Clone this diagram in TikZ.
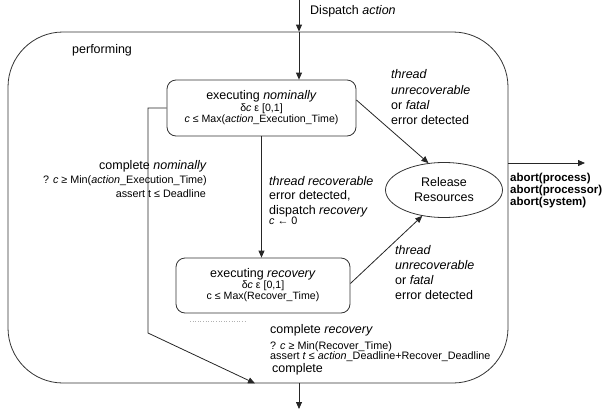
\documentclass[tikz,border=0pt]{standalone}
\usepackage{fontspec}
\setmainfont{Liberation Sans}
\usetikzlibrary{arrows.meta,shapes.geometric,calc}
\newcommand\myBig{\fontsize{12.5}{15}\selectfont}
\newcommand\mySmall{\fontsize{10.8}{11.5}\selectfont}
\newcommand\myBold{\fontsize{11.5}{12.5}\selectfont\bfseries}
\begin{document}
\begin{tikzpicture}[x=1pt,y=-1pt,
  line/.style={draw=black!85, line width=0.8pt},
  arr/.style={line, -{Triangle[length=7pt,width=6pt]}},
  txtL/.style={inner sep=0pt, anchor=base west, font=\myBig},
  txtR/.style={inner sep=0pt, anchor=base east, font=\myBig},
  stxtL/.style={inner sep=0pt, anchor=base west, font=\mySmall},
  stxtR/.style={inner sep=0pt, anchor=base east, font=\mySmall},
  btxt/.style={inner sep=0pt, anchor=base west, font=\myBold},
  statebox/.style={draw=black!80, line width=0.8pt, rounded corners=9pt, align=center, inner sep=0pt, font=\fontsize{12.5}{11.5}\selectfont},
]
\useasboundingbox (0,0) rectangle (616,410);

% outer state
\node[draw=black!80, line width=0.8pt, rounded corners=55pt, minimum width=500pt, minimum height=351pt, inner sep=0pt] (perf) at (258,207.5) {};
\node[txtL] (perfl) at (72,53) {performing};

% inner states
\node[statebox, minimum width=189pt, minimum height=56pt] (nom) at (261.5,108)
  {executing \textit{nominally}\\ \fontsize{10.6}{11.5}\selectfont δ\textit{c} ε [0,1]\\ \fontsize{10.6}{11.5}\selectfont \textit{c} ≤ Max(\textit{action}\_Execution\_Time)};
\node[statebox, minimum width=174pt, minimum height=55pt, font=\fontsize{12.5}{11}\selectfont] (rec) at (263,285.5)
  {executing \textit{recovery}\\ \fontsize{10.6}{11}\selectfont δ\textit{c} ε [0,1]\\ \fontsize{10.6}{11}\selectfont c ≤ Max(Recover\_Time)};
\node[draw=black!80, line width=0.8pt, ellipse, minimum width=117pt, minimum height=55pt, inner sep=0pt, align=center, font=\fontsize{12.5}{15}\selectfont] (rr) at (444,190) {Release\\Resources};

% coordinates for free ends
\coordinate (dtop) at (299,0);
\coordinate (dbot) at (299,409);
\coordinate (lcorner) at (148,333);
\coordinate (ltip) at (255,383);
\coordinate (aend) at (585,163);
\coordinate (dotA) at (190,321);
\coordinate (dotB) at (247,321);

% connectors
\draw[arr] (dtop) -- (dtop |- perf.north);
\draw[arr] (dtop |- perf.north) -- (dtop |- nom.north);
\draw[arr] (nom.south) -- (nom.south |- rec.north);
\draw[arr] ([yshift=8pt]nom.east) -- (rr.120);
\draw[arr] ([yshift=2pt]rec.east) -- (rr.230);
\draw[arr] (nom.west) -| (lcorner) -- (ltip |- perf.south);
\draw[arr] (dtop |- perf.south) -- (dbot);
\draw[arr] (aend -| perf.east) -- (aend);
\draw[black!30, dotted, line width=0.6pt] (dotA) -- (dotB);

% labels
\node[txtL] (dsp) at (310,14) {Dispatch \textit{action}};

\node[txtL] (t1a) at (391,78) {\textit{thread}};
\node[txtL] (t1b) at (391,94) {\textit{unrecoverable}};
\node[txtL] (t1c) at (391,109) {or \textit{fatal}};
\node[txtL] (t1d) at (391,124) {error detected};

\node[txtL] (t2a) at (395,254) {\textit{thread}};
\node[txtL] (t2b) at (395,269) {\textit{unrecoverable}};
\node[txtL] (t2c) at (395,284) {or \textit{fatal}};
\node[txtL] (t2d) at (395,299) {error detected};

\node[txtL] (r1) at (269,185) {\textit{thread recoverable}};
\node[txtL] (r2) at (269,199) {error detected,};
\node[txtL] (r3) at (269,214) {dispatch \textit{recovery}};
\node[stxtL] (r4) at (269,224) {\textit{c} ← 0};

\node[txtR] (cn1) at (207,169) {complete \textit{nominally}};
\node[stxtR] (cn2) at (207,183) {? \textit{c} ≥ Min(\textit{action}\_Execution\_Time)};
\node[stxtR] (cn3) at (206,197) {assert t ≤ Deadline};

\node[txtL] (cr1) at (270,333) {complete \textit{recovery}};
\node[stxtL] (cr2) at (270,349) {? \textit{c} ≥ Min(Recover\_Time)};
\node[stxtL] (cr3) at (270,359) {assert \textit{t} ≤ \textit{action}\_Deadline+Recover\_Deadline};
\node[txtL] (cr4) at (272,372) {complete};

\node[btxt] (ab1) at (510,181) {abort(process)};
\node[btxt] (ab2) at (510,193) {abort(processor)};
\node[btxt] (ab3) at (510,205) {abort(system)};
\end{tikzpicture}
\end{document}
